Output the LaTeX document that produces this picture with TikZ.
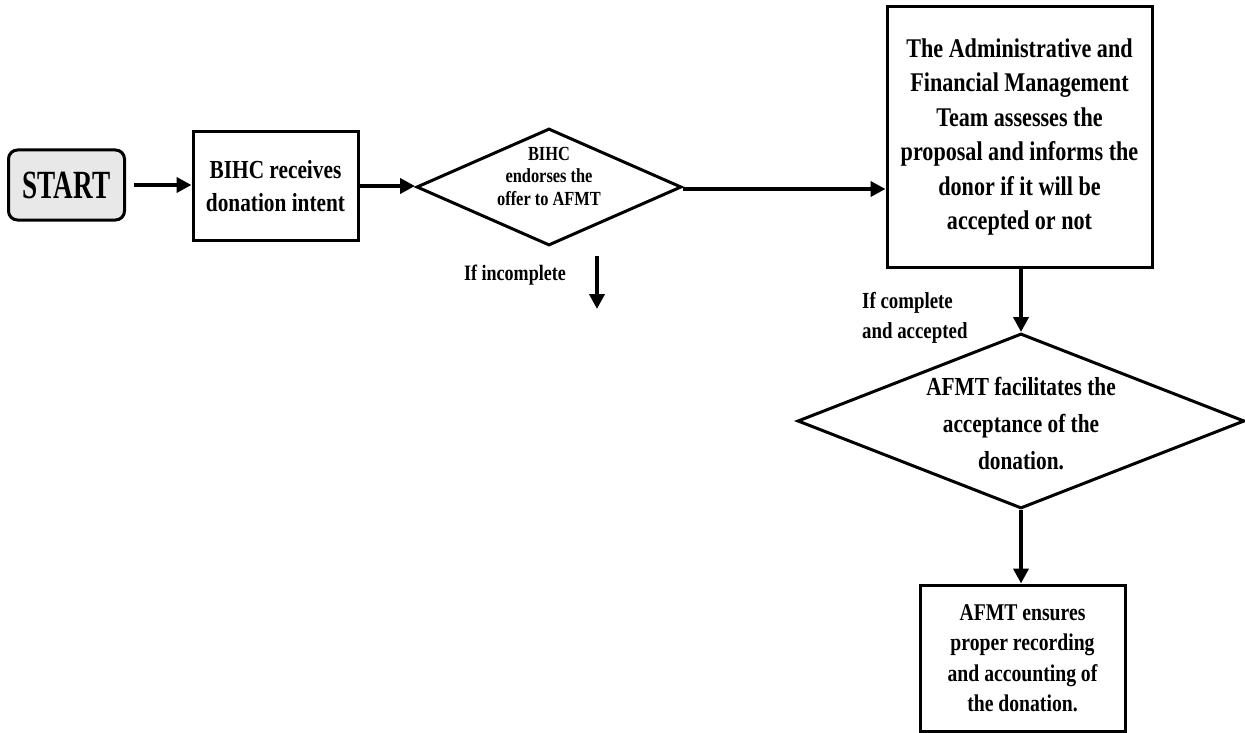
\documentclass[tikz,border=0pt]{standalone}
\usepackage{fontspec}
\setmainfont{Liberation Serif}[FakeStretch=0.82]
\newfontfamily\startfont{Liberation Serif}[FakeStretch=0.68]
\usetikzlibrary{shapes.geometric,arrows.meta}
\tikzset{
  box/.style={draw, line width=3pt, inner sep=0pt, align=center, font=\bfseries},
  dia/.style={draw, diamond, line width=3pt, inner sep=0pt},
  flow/.style={line width=4.5pt, -{Triangle[length=15pt,width=15pt]}},
  lbl/.style={inner sep=0pt, font=\bfseries}
}
\begin{document}
\begin{tikzpicture}[x=1pt,y=-1pt]
\useasboundingbox (0,0) rectangle (1245,733);
\fill[white] (0,0) rectangle (1245,733);
% nodes
\node[box, rounded corners=9pt, fill=gray!18, minimum width=116pt, minimum height=70pt,
      font=\startfont\bfseries\fontsize{40}{40}\selectfont] (start) at (66.5,185) {START};
\node[box, minimum width=165pt, minimum height=108pt, font=\bfseries\fontsize{26}{33}\selectfont]
      (recv) at (275.5,186) {BIHC receives\\donation intent};
\node[dia, minimum width=265pt, minimum height=117pt] (d1) at (549,187) {};
\node[lbl, align=center, font=\bfseries\fontsize{20}{22.5}\selectfont] (d1t) at (549,176)
      {BIHC\\endorses the\\offer to AFMT};
\node[box, minimum width=265pt, minimum height=260pt, font=\bfseries\fontsize{27}{34.5}\selectfont]
      (assess) at (1019.5,137)
      {The Administrative and\\Financial Management\\Team assesses the\\proposal and informs the\\donor if it will be\\accepted or not};
\node[dia, minimum width=447pt, minimum height=175pt] (d2) at (1021,421) {};
\node[lbl, align=center, font=\bfseries\fontsize{26}{37}\selectfont] (d2t) at (1021,424)
      {AFMT facilitates the\\acceptance of the\\donation.};
\node[box, minimum width=205pt, minimum height=146pt, font=\bfseries\fontsize{24}{30.5}\selectfont]
      (rec) at (1022.5,658)
      {AFMT ensures\\proper recording\\and accounting of\\the donation.};
% labels
\node[lbl, font=\bfseries\fontsize{22}{26}\selectfont] (inc) at (515,275) {If incomplete};
\node[lbl, align=left, anchor=west, font=\bfseries\fontsize{23}{30}\selectfont] (comp) at (862,318)
      {If complete\\and accepted};
\coordinate (i1) at (597,256);
\coordinate (i2) at (597,309);
\path (start.east) ++(8pt,0) coordinate (s0);
\path (d1.east) ++(0,-2pt) coordinate (d1e);
% connectors
\draw[flow] (s0) -- (recv.west |- s0);
\draw[flow] (recv.east) -- (recv.east -| d1.west);
\draw[flow] (d1e) -- (d1e -| assess.west);
\draw[flow] (i1) -- (i2);
\draw[flow] (assess.south -| d2.north) -- (d2.north);
\draw[flow] (d2.south) -- (rec.north -| d2.south);
\end{tikzpicture}
\end{document}
